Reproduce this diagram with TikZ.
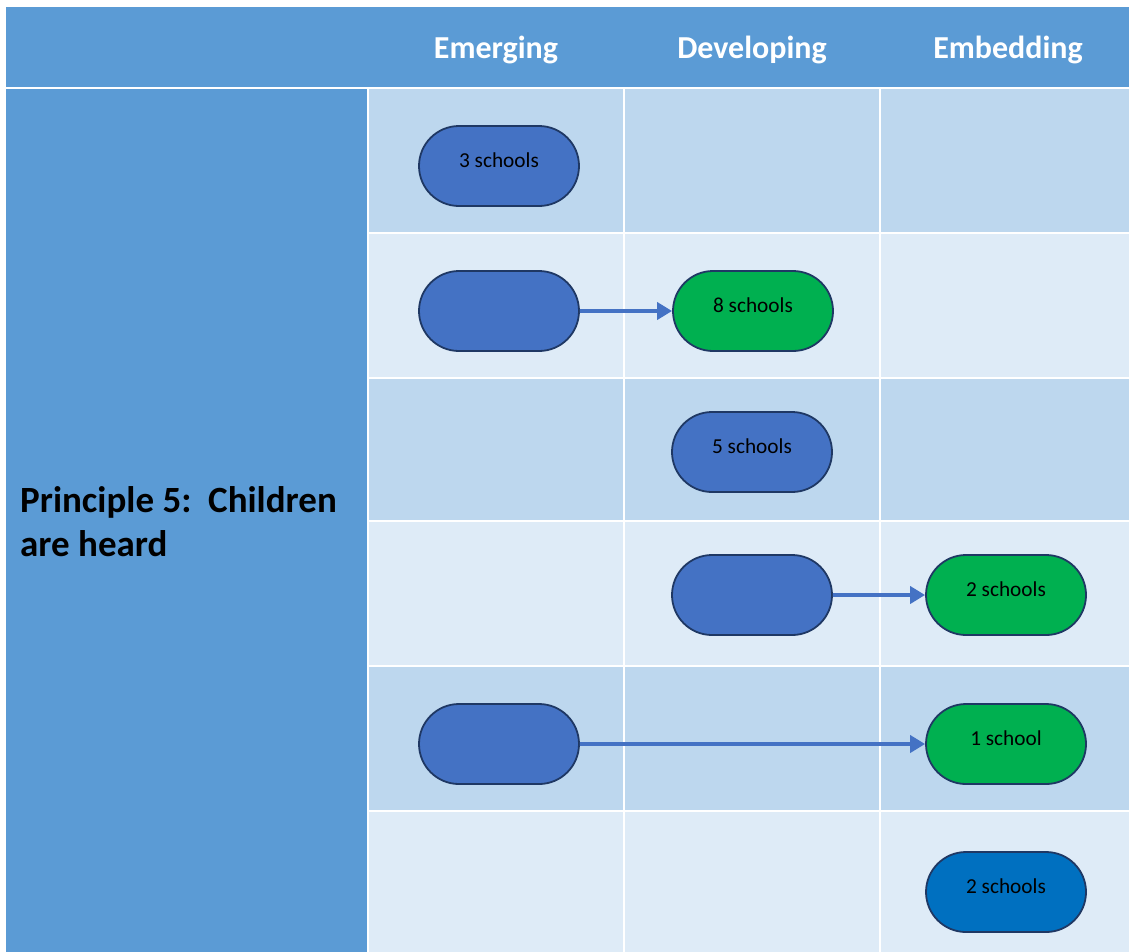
\documentclass[tikz,border=0pt]{standalone}
\usepackage{fontspec}
\setmainfont{Carlito}
\usetikzlibrary{shapes.misc,arrows.meta}
\definecolor{hdr}{HTML}{5B9BD5}
\definecolor{rowdark}{HTML}{BDD7EE}
\definecolor{rowlight}{HTML}{DEEBF7}
\definecolor{pillblue}{HTML}{4472C4}
\definecolor{pillgreen}{HTML}{00B050}
\definecolor{pilldeep}{HTML}{0070C0}
\definecolor{pillline}{HTML}{1F3864}
\tikzset{
  pill/.style={rounded rectangle, draw=pillline, line width=1.8pt, minimum width=160pt, minimum height=80pt, inner sep=0pt},
  bluepill/.style={pill, fill=pillblue},
  greenpill/.style={pill, fill=pillgreen},
  deeppill/.style={pill, fill=pilldeep},
  pilltext/.style={label={[yshift=6pt, font=\fontsize{21.3}{25}\selectfont]center:#1}},
  hdrtext/.style={anchor=base, text=white, font=\bfseries\fontsize{32}{38}\selectfont, inner sep=0pt},
  flow/.style={draw=pillblue, line width=3.8pt, -{Triangle[length=15pt,width=17pt]}},
}
\begin{document}
\begin{tikzpicture}[x=1pt,y=-1pt]
\useasboundingbox (0,0) rectangle (1129,951);
\fill[white] (0,0) rectangle (1129,951);
% header and left column
\fill[hdr] (6,7) rectangle (1135,87);
\fill[hdr] (6,89) rectangle (367,960);
% cells
\foreach \ya/\yb/\c in {89/232/rowdark,234/377/rowlight,379/520/rowdark,522/665/rowlight,667/810/rowdark,812/960/rowlight}{
  \foreach \xa/\xb in {369/623,625/879,881/1135}{
    \fill[\c] (\xa,\ya) rectangle (\xb,\yb);
  }
}
% headers
\node[hdrtext] (hEmerging) at (496,58) {Emerging};
\node[hdrtext] (hDeveloping) at (752,58) {Developing};
\node[hdrtext] (hEmbedding) at (1008,58) {Embedding};
\node[anchor=west, align=left, inner sep=0pt, font=\bfseries\fontsize{37}{44}\selectfont] (principle) at (20,522) {Principle 5:\ \ Children\\are heard};
% pills
\node[bluepill, pilltext=3 schools] (r1a) at (499,166) {};
\node[bluepill] (r2a) at (499,311) {};
\node[greenpill, pilltext=8 schools] (r2b) at (753,311) {};
\node[bluepill, pilltext=5 schools] (r3b) at (752,452) {};
\node[bluepill] (r4b) at (752,595) {};
\node[greenpill, pilltext=2 schools] (r4c) at (1006,595) {};
\node[bluepill] (r5a) at (499,744) {};
\node[greenpill, pilltext=1 school] (r5c) at (1006,744) {};
\node[deeppill, pilltext=2 schools] (r6c) at (1006,892) {};
% arrows
\draw[flow] (r2a) -- (r2b);
\draw[flow] (r4b) -- (r4c);
\draw[flow] (r5a) -- (r5c);
\end{tikzpicture}
\end{document}
